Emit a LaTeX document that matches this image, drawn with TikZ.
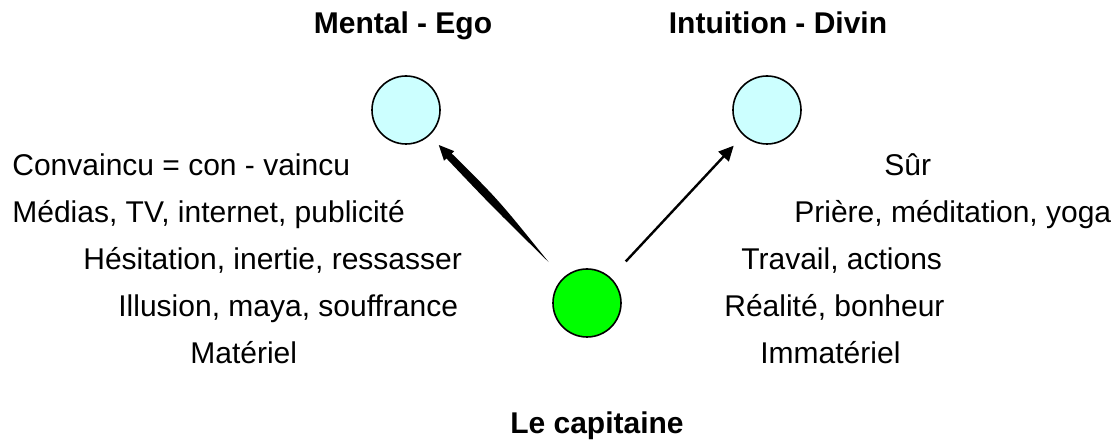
\documentclass[tikz,border=0pt]{standalone}
\usepackage{fontspec}
\setmainfont{Liberation Sans}
\usetikzlibrary{calc,arrows.meta}

\definecolor{ciel}{HTML}{CCFFFF}
\definecolor{vert}{HTML}{00FF00}

\tikzset{
  boule/.style={circle, draw, line width=0.8pt, minimum size=34pt, inner sep=0pt},
  titre/.style={font=\fontsize{15}{18}\selectfont\bfseries, anchor=base, inner sep=0pt},
  ligne/.style={font=\fontsize{15}{18}\selectfont, anchor=base west, inner sep=0pt},
  fleche/.style={-{Triangle[length=7.5pt,width=7pt]}, line width=1.2pt}
}

\begin{document}
\begin{tikzpicture}[x=0.5pt, y=-0.5pt]
  \useasboundingbox (0,0) rectangle (1116,443);

  % 绘制三个圆
  \node[boule, fill=ciel] (ego) at (406,110) {};
  \node[boule, fill=ciel] (divin) at (767,110) {};
  \node[boule, fill=vert] (capitaine) at (587,303) {};

  % 添加标题
  \node[titre] (tego) at (403,34) {Mental - Ego};
  \node[titre] (tdivin) at (778,34) {Intuition - Divin};
  \node[titre] (tcapitaine) at (597,434) {Le capitaine};

  % 绘制右箭头
  \draw[fleche, shorten <=11pt, shorten >=7pt] (capitaine) -- (divin);

  % 绘制左箭头（渐粗）
  \coordinate (qg) at ($(capitaine)!28pt!(ego)$);
  \coordinate (tg) at ($(ego)!24pt!(capitaine)$);
  \coordinate (bg) at ($(tg)!7.5pt!(qg)$);
  \coordinate (mg) at ($(qg)!0.55!(bg)$);
  \fill (qg) .. controls ($(mg)!1.6pt!90:(tg)$) .. ($(bg)!1.8pt!90:(tg)$)
    -- ($(bg)!3.5pt!90:(tg)$) -- (tg) -- ($(bg)!3.5pt!-90:(tg)$)
    -- ($(bg)!1.8pt!-90:(tg)$) .. controls ($(mg)!3pt!-90:(tg)$) .. (qg) -- cycle;

  % 左边文字
  \node[ligne] (g1) at (12,176) {Convaincu = con - vaincu};
  \node[ligne] (g2) at (12,223) {Médias, TV, internet, publicité};
  \node[ligne] (g3) at (83,270) {Hésitation, inertie, ressasser};
  \node[ligne] (g4) at (118,317) {Illusion, maya, souffrance};
  \node[ligne] (g5) at (190,364) {Matériel};

  % 右边文字
  \node[ligne] (d1) at (884,176) {Sûr};
  \node[ligne] (d2) at (794,223) {Prière, méditation, yoga};
  \node[ligne] (d3) at (741,270) {Travail, actions};
  \node[ligne] (d4) at (724,317) {Réalité, bonheur};
  \node[ligne] (d5) at (760,364) {Immatériel};
\end{tikzpicture}
\end{document}
